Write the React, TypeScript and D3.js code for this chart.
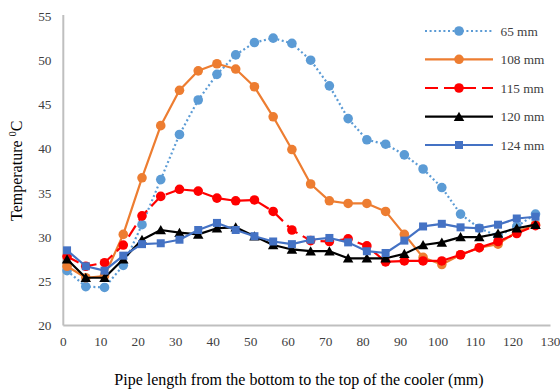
import React from "react";
import * as d3 from "d3";

const xValues = [1, 6, 11, 16, 21, 26, 31, 36, 41, 46, 51, 56, 61, 66, 71, 76, 81, 86, 91, 96, 101, 106, 111, 116, 121, 126];
const s65 = [26.2, 24.4, 24.3, 26.8, 31.4, 36.5, 41.6, 45.5, 48.4, 50.6, 52.0, 52.5, 51.9, 50.0, 47.1, 43.4, 41.0, 40.5, 39.3, 37.7, 35.6, 32.6, 31.0, 30.1, 31.2, 32.6];
const s108 = [26.7, 25.4, 25.6, 30.3, 36.7, 42.6, 46.6, 48.8, 49.6, 49.0, 47.0, 43.6, 39.9, 36.0, 34.1, 33.8, 33.8, 32.9, 30.3, 27.7, 26.9, 28.0, 28.8, 29.2, 30.6, 31.4];
const s115 = [27.8, 26.7, 27.1, 29.1, 32.4, 34.6, 35.4, 35.2, 34.4, 34.1, 34.2, 32.9, 30.8, 29.6, 29.5, 29.8, 29.0, 27.2, 27.3, 27.3, 27.3, 28.0, 28.8, 29.5, 30.4, 31.3];
const s120 = [27.5, 25.4, 25.4, 27.5, 29.7, 30.8, 30.5, 30.3, 31.0, 31.1, 30.1, 29.1, 28.6, 28.4, 28.4, 27.6, 27.6, 27.6, 28.1, 29.1, 29.4, 30.0, 30.0, 30.4, 31.0, 31.4];
const s124 = [28.5, 26.7, 26.2, 27.9, 29.2, 29.3, 29.7, 30.8, 31.6, 30.8, 30.1, 29.5, 29.2, 29.7, 29.9, 29.4, 28.4, 28.2, 29.6, 31.2, 31.5, 31.1, 31.0, 31.4, 32.1, 32.3];

const seriesNames = ["65 mm", "108 mm", "115 mm", "120 mm", "124 mm"];
const xTicks = [0, 10, 20, 30, 40, 50, 60, 70, 80, 90, 100, 110, 120, 130];
const yTicks = [20, 25, 30, 35, 40, 45, 50, 55];

type Sty = { color: string; dash: string | null; marker: "circle" | "triangle" | "square"; cap: string };
const styles: Sty[] = [
  { color: "#5B9BD5", dash: "2,2.6", marker: "circle", cap: "butt" },
  { color: "#ED7D31", dash: null, marker: "circle", cap: "butt" },
  { color: "#FF0000", dash: "13,6", marker: "circle", cap: "butt" },
  { color: "#000000", dash: null, marker: "triangle", cap: "butt" },
  { color: "#4472C4", dash: null, marker: "square", cap: "butt" },
];

const W = 560;
const H = 392;
const x = d3.scaleLinear().domain([0, 130]).range([63.3, 550.5]);
const y = d3.scaleLinear().domain([20, 55]).range([325.5, 16]);

function Marker({ kind, cx, cy, color }: { kind: string; cx: number; cy: number; color: string }) {
  if (kind === "circle") return <circle cx={cx} cy={cy} r={4.8} fill={color} />;
  if (kind === "square") return <rect x={cx - 4} y={cy - 4} width={8} height={8} fill={color} />;
  const s = 5;
  return <path d={`M${cx},${cy - s}L${cx + s * 1.05},${cy + s * 0.85}L${cx - s * 1.05},${cy + s * 0.85}Z`} fill={color} />;
}

export default function App() {
  const all = [s65, s108, s115, s120, s124];
  const line = d3
    .line<number>()
    .x((_, i) => x(xValues[i]))
    .y((d) => y(d));
  const font = "'Liberation Serif', 'Times New Roman', serif";
  const legendY = [31, 59.3, 88, 116.7, 145];
  return (
    <svg width={W} height={H} style={{ position: "absolute", left: 0, top: 0, background: "#fff" }} fontFamily={font}>
      <rect width={W} height={H} fill="#fff" />
      <line x1={x(0)} x2={x(0)} y1={y(55) - 1} y2={y(20)} stroke="#BFBFBF" strokeWidth={2} />
      <line x1={x(0)} x2={x(130)} y1={y(20)} y2={y(20)} stroke="#BFBFBF" strokeWidth={2} />
      {yTicks.map((t) => (
        <text key={t} x={51.5} y={y(t)} dy="0.35em" textAnchor="end" fontSize={13.3} fill="#404040">
          {t}
        </text>
      ))}
      {xTicks.map((t) => (
        <text key={t} x={x(t)} y={346} textAnchor="middle" fontSize={13.3} fill="#404040">
          {t}
        </text>
      ))}
      <text x={299} y={385} textAnchor="middle" fontSize={16} fill="#000">
        Pipe length from the bottom to the top of the cooler (mm)
      </text>
      <text transform={`translate(22,${y(37.5)}) rotate(-90)`} textAnchor="middle" fontSize={16} fill="#000">
        Temperature <tspan fontSize={10.5} dy={-6}>0</tspan>
        <tspan dy={6}>C</tspan>
      </text>
      {all.map((s, k) => (
        <g key={k}>
          <path
            d={line(s) || ""}
            fill="none"
            stroke={styles[k].color}
            strokeWidth={2.2}
            strokeDasharray={styles[k].dash || undefined}
            strokeLinejoin="round"
          />
          {s.map((v, i) => (
            <Marker key={i} kind={styles[k].marker} cx={x(xValues[i])} cy={y(v)} color={styles[k].color} />
          ))}
        </g>
      ))}
      {seriesNames.map((n, k) => (
        <g key={n}>
          <line
            x1={425}
            x2={493}
            y1={legendY[k]}
            y2={legendY[k]}
            stroke={styles[k].color}
            strokeWidth={2.2}
            strokeDasharray={styles[k].dash || undefined}
          />
          <Marker kind={styles[k].marker} cx={459} cy={legendY[k]} color={styles[k].color} />
          <text x={500.5} y={legendY[k]} dy="0.35em" fontSize={13.3} fill="#404040">
            {n}
          </text>
        </g>
      ))}
    </svg>
  );
}
